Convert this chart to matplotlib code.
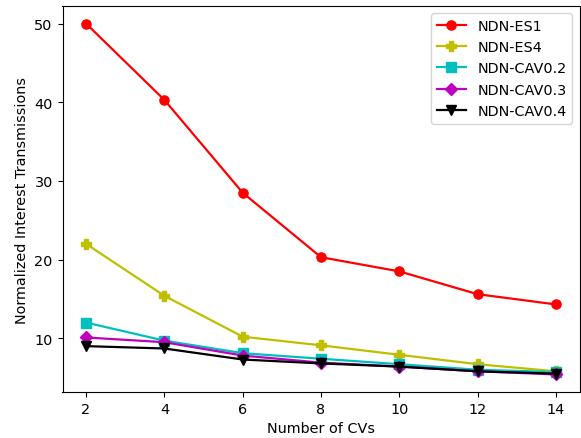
import matplotlib
matplotlib.use('Agg')
import matplotlib.pyplot as plt

cvs = [2, 4, 6, 8, 10, 12, 14]

es1 = [50.0, 40.3, 28.5, 20.3, 18.5, 15.6, 14.3]
es4 = [22.0, 15.4, 10.2, 9.1, 7.9, 6.7, 5.8]
cav02 = [12.0, 9.7, 8.1, 7.4, 6.7, 6.0, 5.7]
cav03 = [10.1, 9.5, 7.8, 6.9, 6.4, 5.8, 5.4]
cav04 = [9.0, 8.7, 7.3, 6.8, 6.4, 5.8, 5.5]

plt.rcParams['font.size'] = 10.4

fig = plt.figure(figsize=(5.81, 4.39), dpi=100)
ax = fig.add_axes([62.5 / 581, 46 / 439, 517 / 581, 386 / 439])
ms = 6.6
lw = 1.6
ax.plot(cvs, es1, 'r-o', ms=ms, lw=lw, label='NDN-ES1')
ax.plot(cvs, es4, 'y-P', ms=ms, lw=lw, label='NDN-ES4')
ax.plot(cvs, cav02, 'c-s', ms=ms, lw=lw, label='NDN-CAV0.2')
ax.plot(cvs, cav03, 'm-D', ms=ms, lw=lw, label='NDN-CAV0.3')
ax.plot(cvs, cav04, 'k-v', ms=ms, lw=lw, label='NDN-CAV0.4')
ax.set_xlabel('Number of CVs')
ax.set_ylabel('Normalized Interest Transmissions')
ax.set_xticks(cvs)
ax.legend()
fig.savefig('out.png')
